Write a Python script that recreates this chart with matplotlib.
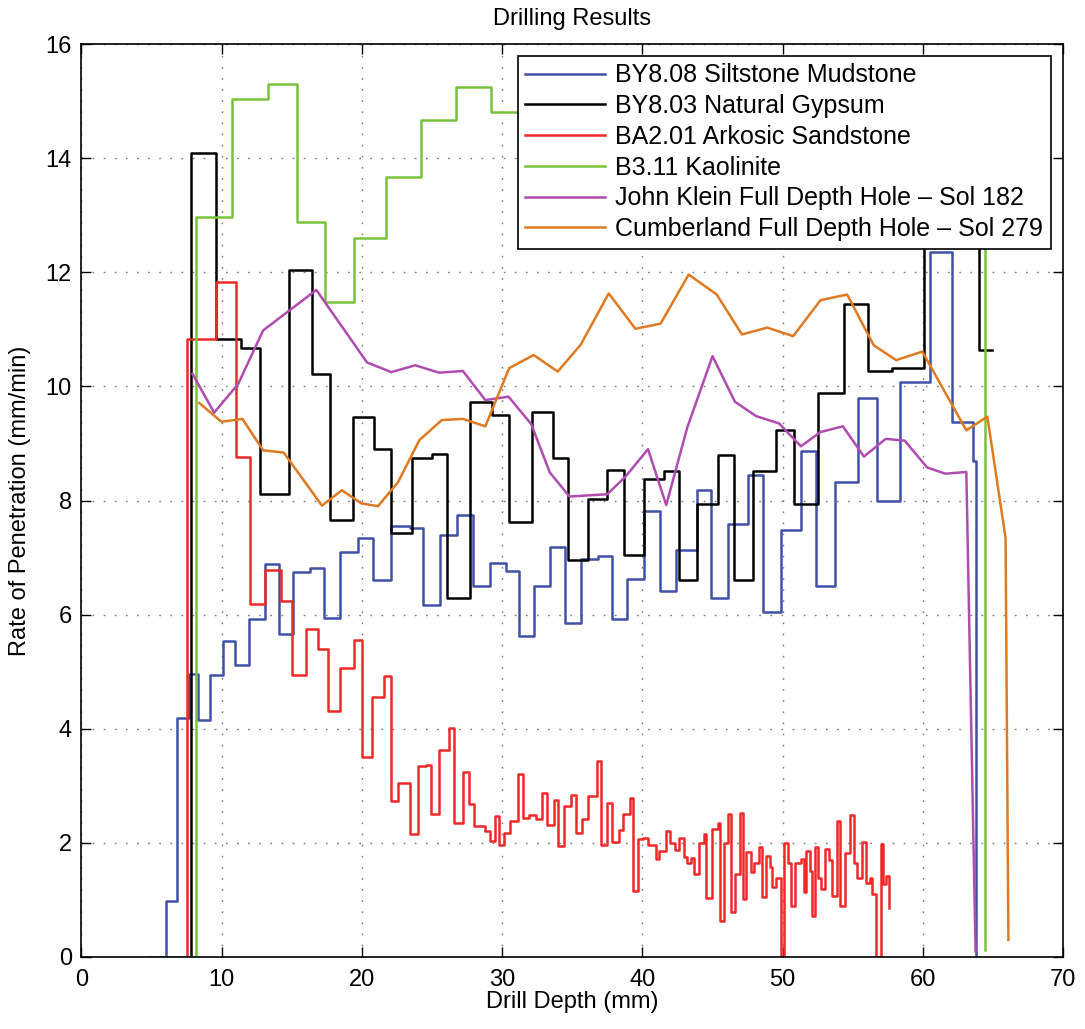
import matplotlib
matplotlib.use('Agg')
import matplotlib.pyplot as plt

plt.rcParams['font.family'] = ['Liberation Sans', 'DejaVu Sans']

# BY8.08 Siltstone Mudstone (stairs: step start, value)
blue_x = [6.03, 6.03, 6.78, 7.68, 8.32, 9.15, 10.06, 10.93, 11.93, 13.07, 14.07, 15.09, 16.3, 17.3,
          18.46, 19.72, 20.8, 22.04, 23.4, 24.35, 25.6, 26.8, 27.9, 29.1, 30.3, 31.2, 32.3, 33.4,
          34.5, 35.6, 36.8, 37.8, 38.9, 40.1, 41.25, 42.4, 43.9, 44.9, 46.1, 47.5, 48.6, 49.9,
          51.3, 52.4, 53.7, 55.4, 56.75, 58.4, 60.5, 62.05, 63.55, 63.8]
blue_y = [0, 0.985, 4.19, 4.96, 4.15, 4.95, 5.53, 5.11, 5.93, 6.89, 5.66, 6.74, 6.82, 5.94,
          7.09, 7.35, 6.6, 7.56, 7.52, 6.17, 7.4, 7.75, 6.51, 6.9, 6.77, 5.63, 6.5, 7.18,
          5.85, 6.98, 7.02, 5.93, 6.63, 7.81, 6.42, 7.13, 8.18, 6.3, 7.58, 8.45, 6.04, 7.49,
          8.86, 6.5, 8.33, 9.79, 8.0, 10.08, 12.35, 9.38, 8.7, 0]

# BY8.03 Natural Gypsum
black_x = [7.78, 7.78, 9.58, 11.4, 12.76, 14.78, 16.47, 17.75, 19.36, 20.83, 22.1, 23.56, 25.0,
           26.05, 27.7, 29.26, 30.5, 32.1, 33.6, 34.7, 36.1, 37.5, 38.7, 40.1, 41.56, 42.6, 43.9,
           45.4, 46.5, 47.9, 49.5, 50.8, 52.5, 54.4, 56.1, 57.8, 60.1, 64.0, 64.9]
black_y = [0, 14.09, 10.83, 10.67, 8.12, 12.04, 10.21, 7.66, 9.47, 8.91, 7.43, 8.75, 8.82,
           6.29, 9.73, 9.5, 7.63, 9.55, 8.75, 6.96, 8.03, 8.53, 7.05, 8.38, 8.52, 6.61, 7.93,
           8.8, 6.6, 8.51, 9.24, 7.93, 9.89, 11.45, 10.27, 10.32, 13.6, 10.63, 10.63]

# BA2.01 Arkosic Sandstone
red_x = [7.52, 7.52, 9.56, 11.0, 12.05, 13.12, 14.26, 15.04, 16.04, 16.87, 17.58, 18.46, 19.4,
         20.03, 20.74, 21.57, 22.04, 22.56, 23.4, 23.99, 24.6, 24.94, 25.5, 26.2, 26.6, 27.2,
         27.6, 27.98, 28.74, 29.1, 29.5, 29.8, 30.16, 30.57, 31.16, 31.47, 31.94, 32.4, 32.85,
         33.2, 33.7, 34.0, 34.4, 34.9, 35.27, 35.7, 36.15, 36.77, 37.05, 37.5, 37.8, 38.3,
         38.64, 39.1, 39.3, 39.66, 40.06, 40.4, 40.97, 41.2, 41.7, 41.97, 42.3, 42.6, 43.0,
         43.2, 43.46, 43.7, 44.05, 44.4, 44.57, 44.96, 45.36, 45.5, 45.83, 46.14, 46.35, 46.6,
         46.97, 47.14, 47.38, 47.73, 47.97, 48.3, 48.5, 48.8, 49.1, 49.27, 49.5, 49.87, 50.1,
         50.4, 50.58, 50.89, 51.3, 51.5, 51.65, 51.96, 52.08, 52.3, 52.55, 52.72, 53.03, 53.31,
         53.5, 53.9, 54.1, 54.43, 54.8, 55.09, 55.33, 55.68, 55.92, 56.21, 56.35, 56.64, 57.0,
         57.16, 57.4, 57.59]
red_y = [0, 10.83, 11.83, 8.77, 6.18, 6.78, 6.23, 4.95, 5.75, 5.4, 4.31, 5.06, 5.55,
         3.5, 4.55, 4.92, 2.73, 3.05, 2.16, 3.34, 3.37, 2.5, 3.62, 4.01, 2.35, 3.25,
         2.68, 2.3, 2.21, 2.03, 2.47, 1.96, 2.18, 2.38, 3.2, 2.44, 2.48, 2.42, 2.88,
         2.32, 2.75, 1.95, 2.65, 2.83, 2.18, 2.41, 2.82, 3.43, 1.96, 2.7, 2.02, 2.22,
         2.51, 2.78, 1.16, 2.06, 2.08, 1.96, 1.71, 1.86, 2.21, 2.0, 1.87, 2.09, 1.75,
         1.64, 1.73, 1.46, 2.0, 2.15, 1.04, 2.25, 2.34, 0.63, 2.0, 2.5, 0.78, 1.45,
         2.53, 1.01, 1.84, 1.49, 1.64, 1.92, 1.05, 1.77, 1.57, 1.22, 1.38, 0.0, 1.99,
         1.65, 0.89, 1.64, 1.71, 1.14, 1.86, 1.51, 0.72, 1.92, 1.38, 1.2, 1.9, 1.7,
         1.07, 2.38, 0.89, 1.82, 2.48, 1.65, 1.39, 2.01, 1.3, 1.38, 1.11, 0.0, 1.98,
         1.28, 1.42, 0.85]

# B3.11 Kaolinite
green_x = [4.7, 8.2, 10.7, 13.3, 15.4, 17.4, 19.4, 21.7, 24.2, 26.7, 29.2, 64.4]
green_y = [0, 12.97, 15.04, 15.3, 12.88, 11.48, 12.6, 13.67, 14.67, 15.24, 14.81, 0.12]

# John Klein Full Depth Hole - Sol 182
purple_x = [7.92, 9.46, 11.17, 12.95, 16.75, 20.36, 22.1, 23.8, 25.5, 27.2, 28.8, 30.45, 32.07,
            33.4, 34.8, 37.5, 38.8, 40.4, 41.7, 43.2, 45.0, 46.6, 48.1, 49.75, 51.3, 52.7,
            54.3, 55.8, 57.35, 58.7, 60.3, 61.6, 63.1, 63.76]
purple_y = [10.22, 9.54, 10.04, 10.98, 11.69, 10.42, 10.25, 10.37, 10.24, 10.27, 9.76, 9.82, 9.34,
            8.49, 8.07, 8.11, 8.42, 8.9, 7.92, 9.28, 10.53, 9.73, 9.48, 9.35, 8.95, 9.2,
            9.3, 8.77, 9.08, 9.05, 8.58, 8.47, 8.5, 0.1]

# Cumberland Full Depth Hole - Sol 279
orange_x = [8.39, 9.98, 11.48, 12.95, 14.42, 17.15, 18.57, 19.95, 21.14, 22.57, 24.1, 25.7, 27.2,
            28.8, 30.5, 32.25, 33.96, 35.6, 37.6, 39.5, 41.3, 43.3, 45.3, 47.1, 48.9, 50.75,
            52.7, 54.6, 56.5, 58.1, 59.96, 63.1, 64.6, 65.9, 66.1]
orange_y = [9.71, 9.38, 9.43, 8.88, 8.84, 7.91, 8.18, 7.95, 7.9, 8.32, 9.06, 9.41, 9.43,
            9.3, 10.32, 10.55, 10.26, 10.73, 11.63, 11.01, 11.1, 11.96, 11.61, 10.91, 11.03, 10.88,
            11.51, 11.61, 10.72, 10.46, 10.61, 9.23, 9.47, 7.34, 0.3]

labels = ['BY8.08 Siltstone Mudstone', 'BY8.03 Natural Gypsum', 'BA2.01 Arkosic Sandstone',
          'B3.11 Kaolinite', 'John Klein Full Depth Hole \u2013 Sol 182',
          'Cumberland Full Depth Hole \u2013 Sol 279']
colors = ['#3f51a8', '#000000', '#f02828', '#78c23c', '#b04cb0', '#e07a22']

fig = plt.figure(figsize=(10.85, 10.29), dpi=100)
ax = fig.add_axes([0.0751, 0.07, 0.9047, 0.8872])

lw = 1.8
ax.step(blue_x, blue_y, where='post', color=colors[0], lw=lw, label=labels[0])
ax.step(black_x, black_y, where='post', color=colors[1], lw=lw, label=labels[1])
ax.step(red_x, red_y, where='post', color=colors[2], lw=lw, label=labels[2])
ax.step(green_x, green_y, where='post', color=colors[3], lw=lw, label=labels[3])
ax.plot(purple_x, purple_y, color=colors[4], lw=lw, label=labels[4])
ax.plot(orange_x, orange_y, color=colors[5], lw=lw, label=labels[5])

ax.set_xlim(0, 70)
ax.set_ylim(0, 16)
ax.set_xticks(range(0, 71, 10))
ax.set_yticks(range(0, 17, 2))
ax.tick_params(direction='in', length=7, width=1, top=True, right=True, labelsize=17)
ax.tick_params(axis='x', pad=9)
ax.tick_params(axis='y', pad=7)
ax.grid(True, color='#777777', lw=1.0, linestyle=(0, (1.2, 6.8)))
for s in ax.spines.values():
    s.set_linewidth(1.2)

ax.set_title('Drilling Results', fontsize=17, pad=14)
ax.set_xlabel('Drill Depth (mm)', fontsize=17, labelpad=0)
ax.set_ylabel('Rate of Penetration (mm/min)', fontsize=17, labelpad=10)

leg = ax.legend(loc='upper right', bbox_to_anchor=(0.9875, 0.987), borderaxespad=0,
                fontsize=18, fancybox=False, framealpha=1, edgecolor='black',
                handlelength=3.2, handletextpad=0.4, labelspacing=0.27, borderpad=0.3)
leg.get_frame().set_linewidth(1.2)

fig.savefig('out.png', dpi=100)
